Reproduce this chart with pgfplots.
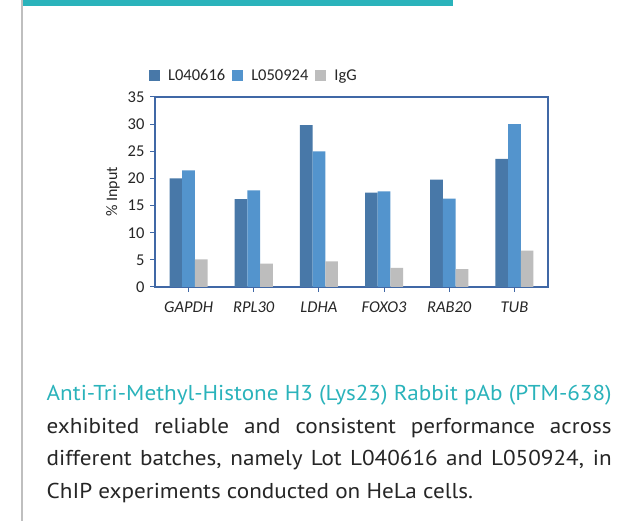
\documentclass[border=0pt]{standalone}
\usepackage{pgfplots}
\pgfplotsset{compat=1.18}
\usepackage{fontspec}
\setmainfont{Carlito}
\newfontfamily\measfont{PT Sans}
\definecolor{teal1}{HTML}{2AB3BB}
\definecolor{barA}{HTML}{4878A8}
\definecolor{barB}{HTML}{5394CD}
\definecolor{barC}{HTML}{BDBDBD}
\definecolor{axcol}{HTML}{4068A6}
\definecolor{txt}{HTML}{262626}
\definecolor{para}{HTML}{262626}
\definecolor{edge}{HTML}{BFBFBF}
\newlength\lw
\def\fs{21.5}
\begin{document}%
\settowidth\lw{\measfont\fontsize{\fs}{\fs}\selectfont Anti-Tri-Methyl-Histone H3 (Lys23) Rabbit pAb (PTM-638)}%
\pgfmathsetmacro\st{565/\lw}%
\newfontfamily\parafont[FakeStretch=\st]{PT Sans}%
\begin{tikzpicture}[x=1pt,y=1pt]
\path[use as bounding box] (0,0) rectangle (617,521);
\fill[white] (0,0) rectangle (617,521);
\fill[edge] (20.5,0) rectangle (22.5,521);
\fill[teal1] (22.5,515) rectangle (453,521);
\begin{axis}[
  at={(155pt,234pt)}, anchor=south west,
  scale only axis, width=393pt, height=190pt,
  ybar=0pt, bar width=12.7pt,
  xmin=-0.515, xmax=5.515,
  ymin=0, ymax=35,
  xtick={0,1,2,3,4,5},
  xticklabels={\textit{GAPDH},\textit{RPL30},\textit{LDHA},\textit{FOXO3},\textit{RAB20},\textit{TUB}},
  ytick={0,5,...,35},
  tick align=outside, major tick length=5pt,
  xtick pos=bottom, ytick pos=left,
  axis line style={axcol, line width=1.1pt},
  every tick/.style={axcol, line width=1pt},
  tick label style={font=\fontsize{16.5}{18}\selectfont, text=txt},
  /pgf/number format/assume math mode=true,
  yticklabel style={xshift=-2pt},
  xticklabel style={yshift=-6pt},
  ylabel={\% Input},
  ylabel style={font=\fontsize{16}{18}\selectfont, text=txt, at={(axis description cs:-0.107,0.5)}, anchor=center},
  legend style={at={(-0.0153,1.1105)}, anchor=west, draw=none, fill=none, inner sep=0pt,
    font=\fontsize{16.5}{18}\selectfont, text=txt,
    /tikz/every odd column/.append style={column sep=6pt},
    /tikz/every even column/.append style={column sep=5pt}},
  legend columns=3,
  legend image code/.code={\fill[#1] (0pt,-5.5pt) rectangle (11pt,5.5pt);},
]
\addplot[fill=barA, draw=none] coordinates {(0,20.0) (1,16.2) (2,29.8) (3,17.4) (4,19.8) (5,23.6)};
\addplot[fill=barB, draw=none] coordinates {(0,21.5) (1,17.8) (2,25.0) (3,17.6) (4,16.3) (5,30.0)};
\addplot[fill=barC, draw=none] coordinates {(0,5.1) (1,4.3) (2,4.7) (3,3.5) (4,3.3) (5,6.7)};
\legend{L040616,L050924,IgG}
\end{axis}
\node[anchor=base west, inner sep=0pt, text=teal1] at (46.5,120) {\parafont\fontsize{\fs}{\fs}\selectfont Anti-Tri-Methyl-Histone H3 (Lys23) Rabbit pAb (PTM-638)};
\node[anchor=base west, inner sep=0pt, text=para] at (46.5,87) {\parafont\fontsize{\fs}{\fs}\selectfont\makebox[565pt][s]{exhibited reliable and consistent performance across}};
\node[anchor=base west, inner sep=0pt, text=para] at (46.5,55) {\parafont\fontsize{\fs}{\fs}\selectfont\makebox[565pt][s]{different batches, namely Lot L040616 and L050924, in}};
\node[anchor=base west, inner sep=0pt, text=para] at (46.5,23) {\parafont\fontsize{\fs}{\fs}\selectfont ChIP experiments conducted on HeLa cells.};
\end{tikzpicture}%
\end{document}
